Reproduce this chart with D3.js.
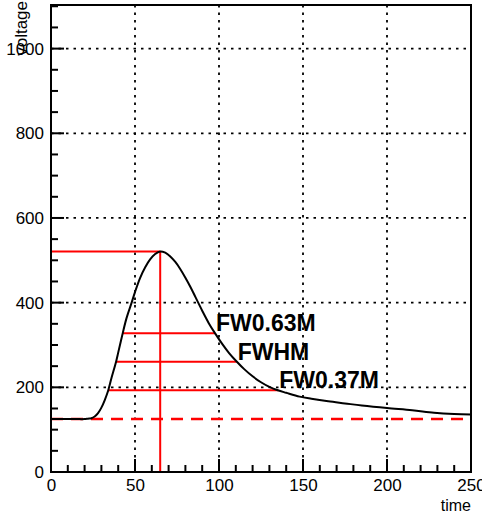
<!DOCTYPE html>
<html>
<head>
<meta charset="utf-8">
<script src="https://cdn.jsdelivr.net/npm/d3@7"></script>
<style>
  body { margin: 0; background: #fff; }
  text { font-family: "Liberation Sans", Arial, sans-serif; }
</style>
</head>
<body>
<div id="plotDiv"></div>
<script>
// pulse
var timeVals = [0, 5, 10, 15, 20, 22, 24, 26, 28, 30, 32, 34, 36, 38.7, 40, 42.7, 45, 48, 50, 53, 56, 59, 62, 65,
                68, 71, 74, 77, 80, 83, 86, 90, 94, 97.6, 102, 106, 110.5, 115, 120, 125, 130, 135, 140, 148,
                155, 165, 175, 185, 200, 215, 228, 240, 250];
var voltVals = [125, 125, 125, 125, 125, 126, 127, 131, 139, 152, 170, 192, 222, 260, 282, 328, 364, 400, 425, 458, 483, 502, 515, 521,
                518, 509, 496, 479, 459, 437, 413, 381, 351, 328, 302, 281, 261, 243, 226, 212, 201, 193, 187, 178,
                173, 167, 162, 157, 151, 146, 140, 137, 136];

var baseline = 125;
var peakTime = 65;
var peakVolt = 521;
// width markers: label, level, left time, right time
var widthLabels = ["FW0.63M", "FWHM", "FW0.37M"];
var widthLevels = [328, 260.5, 193];
var widthLeft = [42.7, 38.7, 34.1];
var widthRight = [97.6, 110.5, 135.3];

var xMajor = [0, 50, 100, 150, 200, 250];
var yMajor = [0, 200, 400, 600, 800, 1000];

function drawData() {
    var margin = { top: 5, right: 11, bottom: 41, left: 51 };
    var width = 482 - margin.left - margin.right;
    var height = 513 - margin.top - margin.bottom;

    var svg = d3.select("#plotDiv").append("svg")
        .attr("width", 482)
        .attr("height", 513)
        .append("g").attr("transform", "translate(" + margin.left + "," + margin.top + ")");

    var xScale = d3.scaleLinear().domain([0, 250]).range([0, width]);
    var yScale = d3.scaleLinear().domain([0, 1103]).range([height, 0]);

    // grid
    svg.selectAll(".gx").data(xMajor.slice(1, -1)).enter().append("line")
        .attr("x1", function (d) { return xScale(d); }).attr("x2", function (d) { return xScale(d); })
        .attr("y1", 0).attr("y2", height)
        .attr("stroke", "#000").attr("stroke-width", 1.8).attr("stroke-dasharray", "2.5,5");
    svg.selectAll(".gy").data(yMajor.slice(1)).enter().append("line")
        .attr("y1", function (d) { return yScale(d); }).attr("y2", function (d) { return yScale(d); })
        .attr("x1", 0).attr("x2", width)
        .attr("stroke", "#000").attr("stroke-width", 1.8).attr("stroke-dasharray", "2.5,5");

    // tick labels through the axis generators
    svg.append("g").attr("transform", "translate(0," + height + ")")
        .call(d3.axisBottom(xScale).tickValues(xMajor).tickSize(0).tickPadding(7).tickFormat(d3.format("d")));
    svg.append("g")
        .call(d3.axisLeft(yScale).tickValues(yMajor).tickSize(0).tickPadding(7).tickFormat(d3.format("d")));
    svg.selectAll(".domain").remove();
    svg.selectAll(".tick line").remove();
    svg.selectAll(".tick text").attr("font-size", 17).attr("fill", "#000")
        .style("font-family", "Liberation Sans, Arial, sans-serif");

    // inward ticks
    var xMinor = d3.range(0, 251, 10);
    var yMinor = d3.range(0, 1101, 50);
    svg.selectAll(".xt").data(xMinor).enter().append("line")
        .attr("x1", function (d) { return xScale(d); }).attr("x2", function (d) { return xScale(d); })
        .attr("y1", height)
        .attr("y2", function (d) { return height - (d % 50 === 0 ? 13 : 7); })
        .attr("stroke", "#000").attr("stroke-width", 2);
    svg.selectAll(".yt").data(yMinor).enter().append("line")
        .attr("y1", function (d) { return yScale(d); }).attr("y2", function (d) { return yScale(d); })
        .attr("x1", 0)
        .attr("x2", function (d) { return d % 200 === 0 ? 13 : 7; })
        .attr("stroke", "#000").attr("stroke-width", 2);

    // red markers
    svg.append("line")
        .attr("x1", 0).attr("x2", width)
        .attr("y1", yScale(baseline)).attr("y2", yScale(baseline))
        .attr("stroke", "#ff0000").attr("stroke-width", 2.5).attr("stroke-dasharray", "12,8");
    svg.append("line")
        .attr("x1", xScale(0)).attr("x2", xScale(peakTime))
        .attr("y1", yScale(peakVolt)).attr("y2", yScale(peakVolt))
        .attr("stroke", "#ff0000").attr("stroke-width", 2);
    svg.append("line")
        .attr("x1", xScale(peakTime)).attr("x2", xScale(peakTime))
        .attr("y1", yScale(0)).attr("y2", yScale(peakVolt))
        .attr("stroke", "#ff0000").attr("stroke-width", 2);
    svg.selectAll(".wl").data(widthLevels).enter().append("line")
        .attr("x1", function (d, i) { return xScale(widthLeft[i]); })
        .attr("x2", function (d, i) { return xScale(widthRight[i]); })
        .attr("y1", function (d) { return yScale(d); })
        .attr("y2", function (d) { return yScale(d); })
        .attr("stroke", "#ff0000").attr("stroke-width", 2);

    // pulse
    var pts = timeVals.map(function (t, i) { return [t, voltVals[i]]; });
    var line = d3.line()
        .x(function (d) { return xScale(d[0]); })
        .y(function (d) { return yScale(d[1]); })
        .curve(d3.curveCatmullRom.alpha(0.5));
    svg.append("path").datum(pts).attr("d", line)
        .attr("fill", "none").attr("stroke", "#000").attr("stroke-width", 2);

    // width labels
    svg.selectAll(".wt").data(widthLabels).enter().append("text")
        .attr("x", function (d, i) { return xScale(widthRight[i]) + 1; })
        .attr("y", function (d, i) { return yScale(widthLevels[i]) - 2; })
        .attr("font-size", 23).attr("font-weight", "bold").attr("fill", "#000")
        .text(function (d) { return d; });

    // frame
    svg.append("rect").attr("x", 0).attr("y", 0).attr("width", width).attr("height", height)
        .attr("fill", "none").attr("stroke", "#000").attr("stroke-width", 2);

    // titles
    svg.append("text").attr("x", width).attr("y", 511 - margin.top)
        .attr("text-anchor", "end").attr("font-size", 16).text("time");
    svg.append("text").attr("transform", "translate(" + (27 - margin.left) + "," + (1 - margin.top) + ") rotate(-90)")
        .attr("text-anchor", "end").attr("font-size", 17).text("voltage");
}

drawData();
</script>
</body>
</html>
